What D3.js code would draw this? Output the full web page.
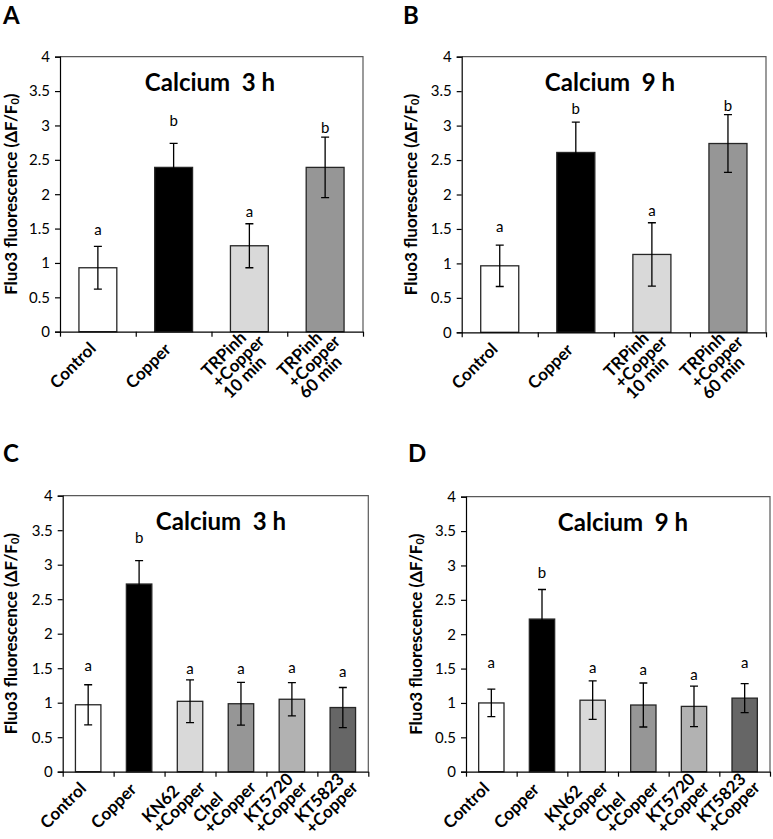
<!DOCTYPE html>
<html><head><meta charset="utf-8">
<script src="https://cdn.jsdelivr.net/npm/d3@7"></script>
<style>body{margin:0;background:#fff}</style>
</head><body><svg id="c" width="773" height="839"></svg>
<script>
// ---- data ----
const yTickValues = [0, 0.5, 1, 1.5, 2, 2.5, 3, 3.5, 4];
const yTickLabels = ["0", "0.5", "1", "1.5", "2", "2.5", "3", "3.5", "4"];
const categoriesAB = [["Control"], ["Copper"], ["TRPinh", "+Copper", "10 min"], ["TRPinh", "+Copper", "60 min"]];
const categoriesCD = [["Control"], ["Copper"], ["KN62", "+Copper"], ["Chel", "+Copper"], ["KT5720", "+Copper"], ["KT5823", "+Copper"]];
const colorsAB = ["#ffffff", "#000000", "#d9d9d9", "#969696"];
const colorsCD = ["#ffffff", "#000000", "#d9d9d9", "#969696", "#b2b2b2", "#666666"];
const titles = ["Calcium  3 h", "Calcium  9 h", "Calcium  3 h", "Calcium  9 h"];
const panelLetters = ["A", "B", "C", "D"];

const meanA = [0.93, 2.39, 1.25, 2.39];
const errA = [0.31, 0.35, 0.32, 0.44];
const sigA = ["a", "b", "a", "b"];
const sigAtA = [1.50, 3.08, 1.76, 2.98];

const meanB = [0.965, 2.61, 1.13, 2.74];
const errB = [0.30, 0.44, 0.46, 0.42];
const sigB = ["a", "b", "a", "b"];
const sigAtB = [1.54, 3.25, 1.78, 3.30];

const meanC = [0.97, 2.72, 1.02, 0.985, 1.05, 0.93];
const errC = [0.29, 0.34, 0.31, 0.31, 0.24, 0.29];
const sigC = ["a", "b", "a", "a", "a", "a"];
const sigAtC = [1.55, 3.40, 1.50, 1.50, 1.52, 1.46];

const meanD = [1.00, 2.22, 1.04, 0.97, 0.95, 1.07];
const errD = [0.20, 0.43, 0.28, 0.32, 0.295, 0.21];
const sigD = ["a", "b", "a", "a", "a", "a"];
const sigAtD = [1.59, 2.91, 1.53, 1.50, 1.42, 1.60];

// ---- layout ----
const frames = [
  {l: 60, r: 363, t: 56.7, b: 331.7, ylabX: 10, titleX: 210, letX: 3, letY: 24},
  {l: 461.7, r: 766, t: 56.7, b: 332.3, ylabX: 410, titleX: 610, letX: 403, letY: 24},
  {l: 62.7, r: 368.3, t: 495.7, b: 771.7, ylabX: 10, titleX: 221, letX: 3, letY: 462},
  {l: 466, r: 770, t: 496.7, b: 771.7, ylabX: 415, titleX: 623, letX: 408, letY: 462}
];
const FONT = "Lato, 'Open Sans', sans-serif";

const panels = [
  {cats: categoriesAB, colors: colorsAB, mean: meanA, err: errA, sig: sigA, sigAt: sigAtA},
  {cats: categoriesAB, colors: colorsAB, mean: meanB, err: errB, sig: sigB, sigAt: sigAtB},
  {cats: categoriesCD, colors: colorsCD, mean: meanC, err: errC, sig: sigC, sigAt: sigAtC},
  {cats: categoriesCD, colors: colorsCD, mean: meanD, err: errD, sig: sigD, sigAt: sigAtD}
];

const svg = d3.select("#c");

panels.forEach((p, pi) => {
  const f = frames[pi];
  const n = p.cats.length;
  const idx = d3.range(n);
  const x = d3.scaleBand().domain(idx).range([f.l, f.r]).paddingInner(0.5).paddingOuter(0.25);
  const xb = d3.scaleLinear().domain([0, n]).range([f.l, f.r]);
  const y = d3.scaleLinear().domain([0, 4]).range([f.b, f.t]);
  const g = svg.append("g");

  // frame (top & right)
  g.append("path")
    .attr("d", `M${f.l},${f.t}H${f.r}V${f.b}`)
    .attr("fill", "none").attr("stroke", "#595959").attr("stroke-width", 1.2);

  // bars
  g.selectAll("rect.bar").data(idx).join("rect")
    .attr("class", "bar")
    .attr("x", i => x(i)).attr("width", x.bandwidth())
    .attr("y", i => y(p.mean[i])).attr("height", i => y(0) - y(p.mean[i]))
    .attr("fill", i => p.colors[i]).attr("stroke", "#262626").attr("stroke-width", 1.3);

  // error bars + significance letters
  const cap = 4;
  idx.forEach(i => {
    const cx = x(i) + x.bandwidth() / 2;
    const hi = y(p.mean[i] + p.err[i]), lo = y(p.mean[i] - p.err[i]);
    g.append("path")
      .attr("d", `M${cx},${hi}V${lo}M${cx - cap},${hi}H${cx + cap}M${cx - cap},${lo}H${cx + cap}`)
      .attr("stroke", "#000").attr("stroke-width", 1.3).attr("fill", "none");
    g.append("text")
      .attr("x", cx).attr("y", y(p.sigAt[i]))
      .attr("text-anchor", "middle").attr("dominant-baseline", "central")
      .attr("font-family", FONT).attr("font-size", 15).attr("fill", "#000")
      .text(p.sig[i]);
  });

  // y axis
  const ya = g.append("g").attr("transform", `translate(${f.l},0)`)
    .call(d3.axisLeft(y).tickValues(yTickValues).tickFormat((d, k) => yTickLabels[k]).tickSize(5).tickPadding(5));
  ya.select(".domain").attr("stroke", "#000").attr("stroke-width", 1.2);
  ya.selectAll(".tick line").attr("stroke", "#000").attr("stroke-width", 1.2);
  ya.selectAll("text").attr("font-family", FONT).attr("font-size", 15).attr("fill", "#000");

  // x axis (boundary ticks)
  const xa = g.append("g").attr("transform", `translate(0,${f.b})`)
    .call(d3.axisBottom(xb).tickValues(d3.range(n + 1)).tickFormat("").tickSizeInner(5).tickSizeOuter(0));
  xa.select(".domain").attr("stroke", "#000").attr("stroke-width", 1.2);
  xa.selectAll(".tick line").attr("stroke", "#000").attr("stroke-width", 1.2);

  // x labels: left-aligned lines rotated -45deg
  const fs = 17, lineH = 15.5;
  idx.forEach(i => {
    const cx = x(i) + x.bandwidth() / 2;
    const lines = p.cats[i];
    const sx = cx - 41, sy = f.b + 58 - 6 * (lines.length - 1);
    const t = g.append("text")
      .attr("transform", `translate(${sx},${sy}) rotate(-45)`)
      .attr("font-family", FONT).attr("font-size", fs).attr("font-weight", "bold").attr("fill", "#000");
    lines.forEach((s, k) => t.append("tspan").attr("x", 0).attr("y", k * lineH).text(s));
  });

  // y label
  const yl = g.append("text")
    .attr("transform", `translate(${f.ylabX},${(f.t + f.b) / 2}) rotate(-90)`)
    .attr("text-anchor", "middle").attr("dominant-baseline", "central")
    .attr("font-family", FONT).attr("font-size", 17).attr("font-weight", "bold").attr("fill", "#000");
  yl.append("tspan").text("Fluo3 fluorescence (\u0394F/F");
  yl.append("tspan").attr("font-size", 11).attr("dy", 4).text("0");
  yl.append("tspan").attr("dy", -4).text(")");

  // title
  g.append("text")
    .attr("x", f.titleX).attr("y", f.t + 34)
    .attr("text-anchor", "middle")
    .attr("font-family", FONT).attr("font-size", 24).attr("font-weight", "bold")
    .attr("xml:space", "preserve").style("white-space", "pre")
    .text(titles[pi]);

  // panel letter
  g.append("text")
    .attr("x", f.letX).attr("y", f.letY)
    .attr("font-family", FONT).attr("font-size", 24).attr("font-weight", "bold")
    .text(panelLetters[pi]);
});
</script>
</body></html>
